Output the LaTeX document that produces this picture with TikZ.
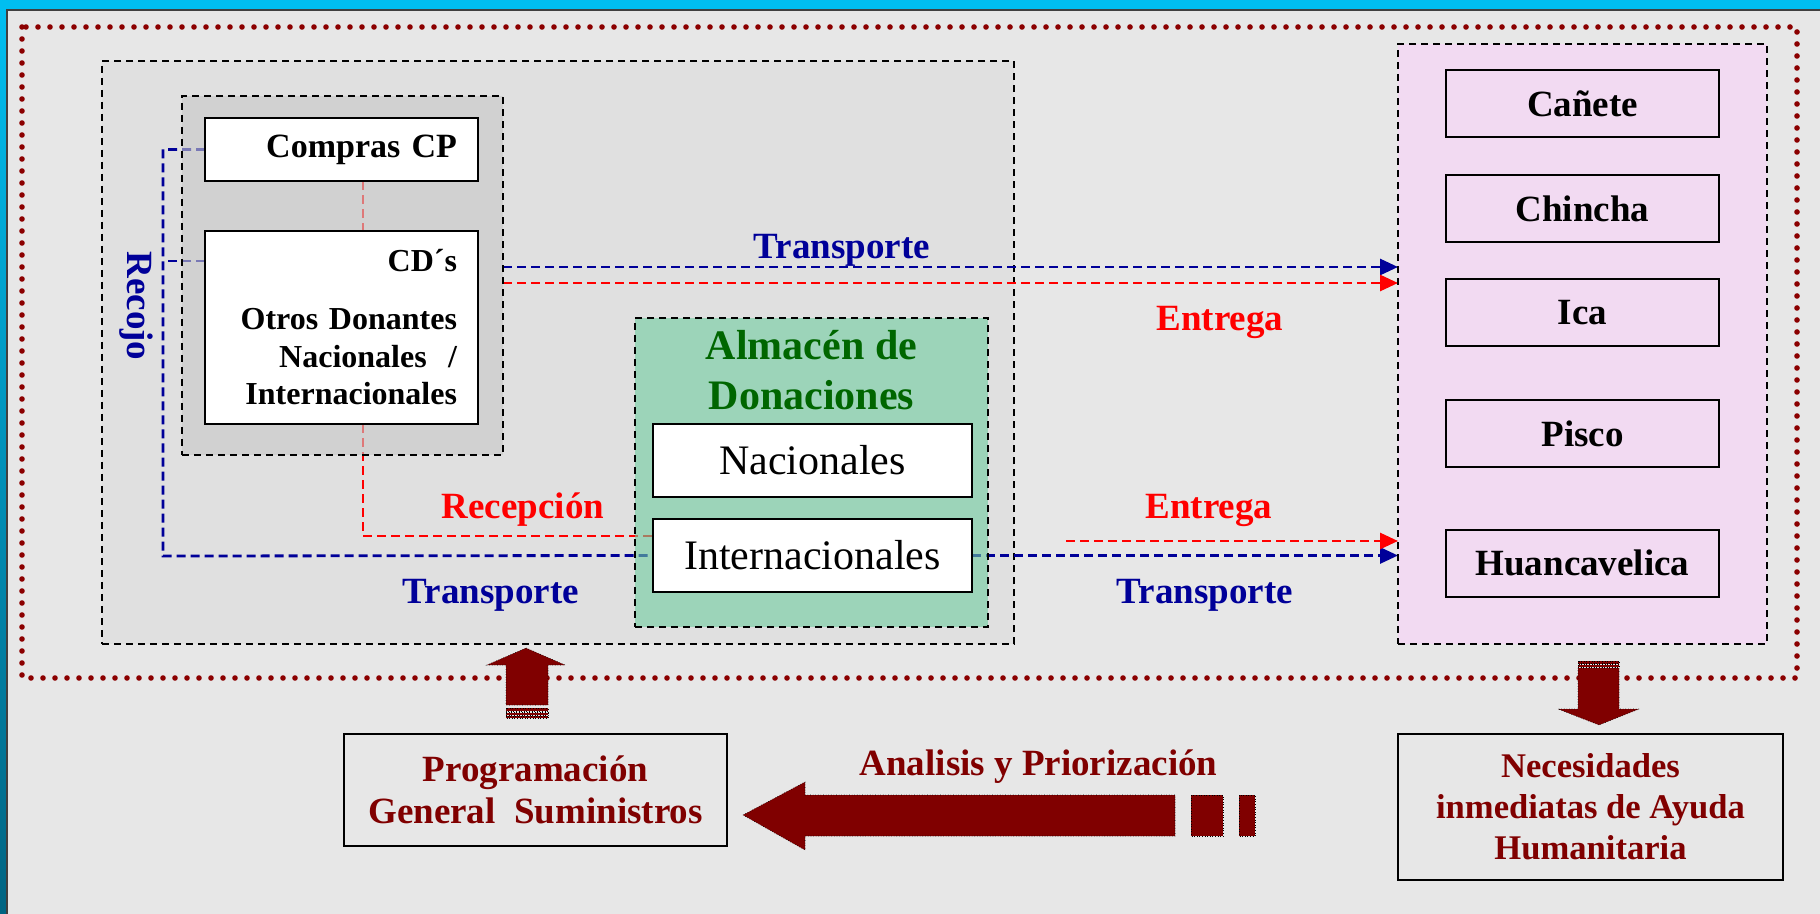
\documentclass[tikz,border=0pt]{standalone}
\usepackage{fontspec}
\setmainfont{Liberation Serif}
\usepackage{xcolor}
\usetikzlibrary{calc,arrows.meta}

\definecolor{bar}{RGB}{0,190,240}
\definecolor{bardark}{RGB}{0,100,130}
\definecolor{panel}{RGB}{231,231,231}
\definecolor{outerbox}{RGB}{224,224,224}
\definecolor{donorgrey}{RGB}{200,200,200}
\definecolor{almacen}{RGB}{112,204,159}
\definecolor{zonepink}{RGB}{242,218,242}
\definecolor{navy}{RGB}{0,0,153}
\definecolor{wine}{RGB}{128,0,0}
\definecolor{dotred}{RGB}{139,0,0}
\definecolor{leaf}{RGB}{0,102,0}

\pgfdeclarelayer{back}
\pgfdeclarelayer{lines}
\pgfsetlayers{back,lines,main}

\begin{document}
\begin{tikzpicture}[x=0.5pt,y=-0.5pt]
% Styles for boxes, lines and labels
\tikzstyle{group box}=[draw,dash pattern=on 3.5pt off 2.5pt,line width=0.7pt,inner sep=0,outer sep=0];
\tikzstyle{white box}=[draw,fill=white,line width=1pt,inner sep=0,outer sep=0];
\tikzstyle{city box}=[draw,line width=1pt,inner sep=0,outer sep=0,minimum width=136.5pt,minimum height=33.5pt,font=\bfseries\fontsize{18.5}{22}\selectfont];
\tikzstyle{blue line}=[navy,line width=1.4pt,dash pattern=on 4.5pt off 2.5pt];
\tikzstyle{red line}=[red,line width=1.4pt,dash pattern=on 4.5pt off 2.5pt];
\tikzstyle{blue arrow}=[blue line,-{Triangle[length=9pt,width=8pt]}];
\tikzstyle{red arrow}=[red line,-{Triangle[length=9pt,width=8pt]}];
\tikzstyle{flow label}=[inner sep=0,font=\bfseries\fontsize{18.5}{22}\selectfont];
\tikzstyle{block arrow}=[fill=wine,draw=black,densely dotted,line width=0.3pt];
\useasboundingbox (0,0) rectangle (1820,914);
% Background and frame
\begin{pgfonlayer}{back}
\fill[bar] (0,0) rectangle (1820,914);
\shade[top color=bar,bottom color=bardark] (0,10) rectangle (7,914);
\fill[panel] (7,10) rectangle (1820,914);
\draw[black!75,line width=0.6pt] (7,914) -- (7,10) -- (1820,10);
\draw[dotred,line width=2.8pt,line cap=round,dash pattern=on 0pt off 6pt] (22,27) rectangle (1797,678);
\node[group box,fill=outerbox,minimum width=456pt,minimum height=291.5pt] (centre) at (558,352.5) {};
\end{pgfonlayer}
% Donors
\node[group box,fill=donorgrey,fill opacity=0.6,minimum width=160.5pt,minimum height=179.5pt] (donors) at (342.5,275.5) {};
\node[white box,minimum width=136.5pt,minimum height=31.5pt,text width=115.5pt,align=right,font=\bfseries\fontsize{17}{20}\selectfont] (cp) at (341.5,149.5) {Compras CP};
\node[white box,minimum width=136.5pt,minimum height=96.5pt,text width=115.5pt,align=right,font=\bfseries\fontsize{16}{18.75}\selectfont] (cds) at (341.5,327.5) {CD´s\\[10.25pt]Otros Donantes\\Nacionales\ \ /\\Internacionales};
% Warehouse
\node[group box,fill=almacen,fill opacity=0.6,minimum width=176.5pt,minimum height=154.5pt] (store) at (811.5,472.5) {};
\node[inner sep=0,align=center,text=leaf,font=\bfseries\fontsize{21}{25}\selectfont] (storetitle) at (811.5,370.5) {Almacén de\\Donaciones};
\node[white box,minimum width=159.5pt,minimum height=36.5pt,font=\fontsize{21}{25}\selectfont] (nat) at (812.5,460.5) {Nacionales};
\node[white box,minimum width=159.5pt,minimum height=36.5pt,font=\fontsize{21}{25}\selectfont] (intl) at (812.5,555.5) {Internacionales};
% Zones
\node[group box,fill=zonepink,minimum width=184.5pt,minimum height=300pt] (zone) at (1582.5,344) {};
\node[city box] (canete) at (1582.5,103.5) {Cañete};
\node[city box] (chincha) at (1582.5,208.5) {Chincha};
\node[city box] (ica) at (1582.5,313) {Ica};
\node[city box] (pisco) at (1582.5,433.5) {Pisco};
\node[city box] (huanca) at (1582.5,563) {Huancavelica};
% Bottom boxes
\node[white box,fill=none,minimum width=191.5pt,minimum height=56pt,align=center,text=wine,font=\bfseries\fontsize{18.5}{21}\selectfont] (prog) at (535.5,790) {Programación\\General\ \ Suministros};
\node[white box,fill=none,minimum width=192.5pt,minimum height=73pt,align=center,text=wine,font=\bfseries\fontsize{17.3}{20.5}\selectfont] (needs) at (1590.5,807) {Necesidades\\inmediatas de Ayuda\\Humanitaria};
% Labels
\node[flow label,text=navy,rotate=-90] (recojo) at (136,306) {Recojo};
\node[flow label,text=navy] (tr1) at (842,250) {Transporte};
\node[flow label,text=red] (en1) at (1220,322) {Entrega};
\node[flow label,text=red] (en2) at (1209,510) {Entrega};
\node[flow label,text=red] (recep) at (523,510) {Recepción};
\node[flow label,text=navy] (tr2) at (491,595) {Transporte};
\node[flow label,text=navy] (tr3) at (1205,595) {Transporte};
\node[flow label,text=wine] (prior) at (1038.5,767) {Analisis y Priorización};
% Connectors
\coordinate (corner) at (163,556);
\coordinate (tick) at (163,261);
\coordinate (topblue) at (503,267);
\coordinate (topred) at (503,283);
\coordinate (redstart) at (1066,541);
\coordinate (rcv) at (363,536);
\begin{pgfonlayer}{lines}
\draw[blue line] (cp.west) -| (corner) -- (intl.west);
\draw[blue line] (cds.west |- tick) -- (tick);
\draw[blue arrow] (intl.east) -- (zone.west |- intl.east);
\draw[blue arrow] (topblue) -- (zone.west |- topblue);
\draw[red arrow] (topred) -- (zone.west |- topred);
\draw[red arrow] (redstart) -- (zone.west |- redstart);
\draw[red line] (cp.south -| rcv) -- (cds.north -| rcv);
\draw[red line] (cds.south -| rcv) -- (rcv) -- (intl.west |- rcv);
\end{pgfonlayer}
% Block arrows
\draw[block arrow] (526,648) -- (565,665) -- (548,665) -- (548,705) -- (506,705) -- (506,665) -- (487,665) -- cycle;
\draw[block arrow] (506,708) rectangle (548,711);
\draw[block arrow] (506,712.5) rectangle (548,715);
\draw[block arrow] (506,716) rectangle (548,718);
\draw[block arrow] (1578,661) rectangle (1619,663.5);
\draw[block arrow] (1578,664.5) rectangle (1619,667);
\draw[block arrow] (1578,668) -- (1619,668) -- (1619,709) -- (1639,709) -- (1599,725) -- (1558,709) -- (1578,709) -- cycle;
\draw[block arrow] (743,815) -- (805,782) -- (805,795) -- (1175,795) -- (1175,836) -- (805,836) -- (805,850) -- cycle;
\draw[block arrow] (1191,795) rectangle (1223,836);
\draw[block arrow] (1239,795) rectangle (1255,836);
\end{tikzpicture}
\end{document}
